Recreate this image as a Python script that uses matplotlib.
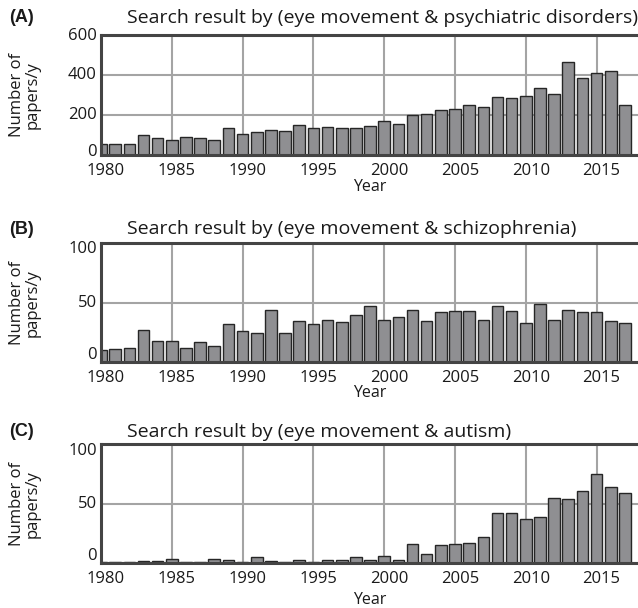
import matplotlib
matplotlib.use("Agg")
import matplotlib.pyplot as plt
import matplotlib.transforms as mtransforms

plt.rcParams['font.family'] = ['Open Sans', 'DejaVu Sans']

years = list(range(1980, 2018))

psychiatric = [57, 54, 56, 100, 84, 73, 89, 84, 76, 133, 103, 116, 124, 121, 151,
               133, 138, 134, 133, 146, 169, 156, 199, 204, 226, 231, 249, 241,
               289, 284, 293, 334, 303, 463, 383, 408, 418, 249]

schizophrenia = [10, 11, 12, 27, 18, 18, 12, 17, 14, 32, 26, 25, 44, 25, 35, 32,
                 36, 34, 40, 47, 36, 38, 44, 35, 42, 43, 43, 36, 47, 43, 33, 49,
                 36, 44, 42, 42, 35, 33]

autism = [1, 1, 1, 2, 2, 4, 1, 1, 4, 3, 1, 5, 2, 1, 3, 1, 3, 3, 5, 3, 6, 3, 16,
          8, 15, 16, 17, 22, 42, 42, 37, 39, 55, 54, 61, 75, 64, 59]

xticks = list(range(1980, 2016, 5))

panels = [
    ("(A)", "Search result by (eye movement & psychiatric disorders)", psychiatric,
     (0, 600), [0, 200, 400, 600]),
    ("(B)", "Search result by (eye movement & schizophrenia)", schizophrenia,
     (0, 100), [0, 50, 100]),
    ("(C)", "Search result by (eye movement & autism)", autism,
     (0, 100), [0, 50, 100]),
]

W, H = 638, 608
fig = plt.figure(figsize=(W / 100, H / 100), dpi=100)

boxes = [(101, 35, 638, 155), (101, 243.5, 638, 362.3), (101, 444, 638, 563.3)]
title_y = [18, 229, 432]
label_y = [18, 230, 432]
year_y = [187, 393, 600]
ylab_off = [{0: 3, 600: -1, 200: 0, 400: 0}, {0: 7, 50: 0, 100: -6},
            {0: 7, 50: 0, 100: -7}]

bar_color = '#8f8f92'
edge_color = '#262626'
grid_color = '#a4a4a4'
spine_color = '#444444'
text_color = '#1a1a1a'

for (tag, title, vals, ylim, yticks), (l, t, r, b), ty, ly, yy, offs in zip(
        panels, boxes, title_y, label_y, year_y, ylab_off):
    ax = fig.add_axes([l / W, 1 - b / H, (r - l) / W, (b - t) / H])
    ax.set_axisbelow(True)
    ax.bar(years, vals, width=0.82, color=bar_color, edgecolor=edge_color,
           linewidth=1.0, zorder=2)
    ax.set_xlim(1980, 1980 + (r - l) / 14.16)
    ax.set_ylim(*ylim)
    ax.set_xticks(xticks)
    ax.set_yticks(yticks)
    ax.set_yticklabels([])
    ax.set_xticklabels([])
    ax.grid(True, color=grid_color, linewidth=1.5, zorder=0)
    ax.tick_params(length=0)
    for s in ['left', 'top', 'bottom']:
        ax.spines[s].set_color(spine_color)
        ax.spines[s].set_linewidth(2.2)
    ax.spines['right'].set_visible(False)

    ytrans = mtransforms.blended_transform_factory(ax.transAxes, ax.transData)
    for v in yticks:
        tr = ytrans + mtransforms.ScaledTranslation(-4 / 100, offs[v] / 100,
                                                    fig.dpi_scale_trans)
        ax.text(0, v, str(v), transform=tr, ha='right', va='center',
                fontsize=12, color=text_color)
    xtrans = mtransforms.blended_transform_factory(ax.transData, ax.transAxes)
    for v in xticks:
        tr = xtrans + mtransforms.ScaledTranslation(5 / 100, -16 / 100,
                                                    fig.dpi_scale_trans)
        ax.text(v, 0, str(v), transform=tr, ha='center', va='center',
                fontsize=12, color=text_color)

    ax.set_ylabel("Number of\npapers/y", fontsize=12, color=text_color,
                  linespacing=1.0)
    ax.yaxis.set_label_coords(-0.112, 0.5)
    fig.text(127 / W, 1 - ty / H, title, fontsize=14, va='center', ha='left',
             color=text_color)
    fig.text(9 / W, 1 - ly / H, tag, fontsize=13, fontweight='bold',
             family=['Liberation Sans', 'DejaVu Sans'],
             va='center', ha='left', color=text_color)
    fig.text(370 / W, 1 - yy / H, "Year", fontsize=11.5, va='center',
             ha='center', color=text_color)

fig.savefig("out.png", dpi=100)
